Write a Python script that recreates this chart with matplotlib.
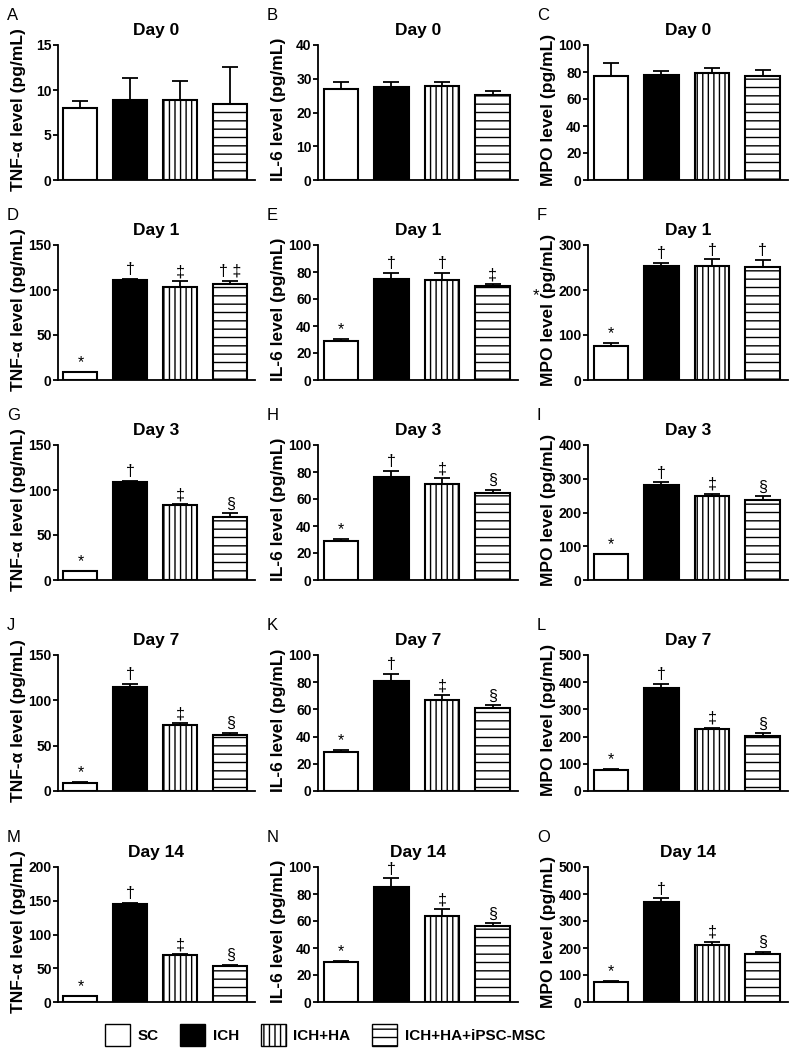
import matplotlib
matplotlib.use("Agg")
import matplotlib.pyplot as plt
from matplotlib.patches import Patch

plt.rcParams['font.family'] = ['Liberation Sans', 'DejaVu Sans']
plt.rcParams['hatch.linewidth'] = 1.0

groups = ['SC', 'ICH', 'ICH+HA', 'ICH+HA+iPSC-MSC']
days = ['Day 0', 'Day 1', 'Day 3', 'Day 7', 'Day 14']
letters = ['A', 'B', 'C', 'D', 'E', 'F', 'G', 'H', 'I', 'J', 'K', 'L', 'M', 'N', 'O']
ylabels = ['TNF-α level (pg/mL)', 'IL-6 level (pg/mL)', 'MPO level (pg/mL)']

# mean values, one list per panel (rows = days, columns = TNF-a, IL-6, MPO)
tnf_means = [[8.0, 8.9, 8.9, 8.4], [8.5, 111, 103.5, 106.5], [9.5, 109, 83, 70],
             [9, 115, 73, 62], [9, 145, 69, 54]]
tnf_errs = [[0.8, 2.4, 2.1, 4.2], [0.8, 1.5, 6, 4], [1, 1, 1.5, 4],
            [0.8, 3.5, 1.5, 2], [0.5, 1.5, 2, 1.5]]
il6_means = [[27, 27.5, 27.8, 25.3], [29, 74.5, 74, 69.5], [29, 76, 71, 64.5],
             [29, 81, 67, 61], [29.5, 85.5, 64, 56]]
il6_errs = [[2, 1.5, 1.2, 1.2], [1.2, 5, 5.5, 1.5], [1.5, 5, 4.5, 2.5],
            [1, 5, 3.5, 2], [1, 6, 5, 2.5]]
mpo_means = [[77, 77.5, 79, 77], [76, 253, 253, 251], [76, 281, 250, 238],
             [77, 380, 228, 203], [75, 372, 212, 176]]
mpo_errs = [[10, 3, 4, 4.5], [6, 7, 15, 16], [2, 9, 6, 10],
            [3, 14, 5, 10], [2, 12, 12, 10]]

tnf_marks = [['', '', '', ''], ['*', '†', '‡', '† ‡'], ['*', '†', '‡', '§'],
             ['*', '†', '‡', '§'], ['*', '†', '‡', '§']]
il6_marks = [['', '', '', ''], ['*', '†', '†', '‡'], ['*', '†', '‡', '§'],
             ['*', '†', '‡', '§'], ['*', '†', '‡', '§']]
mpo_marks = [['', '', '', ''], ['*', '†', '†', '†'], ['*', '†', '‡', '§'],
             ['*', '†', '‡', '§'], ['*', '†', '‡', '§']]

tnf_lim = [(15, 5), (150, 50), (150, 50), (150, 50), (200, 50)]
il6_lim = [(40, 10), (100, 20), (100, 20), (100, 20), (100, 20)]
mpo_lim = [(100, 20), (300, 100), (400, 100), (500, 100), (500, 100)]

colors = ['white', 'black', 'white', 'white']
hatches = [None, None, '|||', '--']

W, H = 799, 1062
fig = plt.figure(figsize=(W / 100, H / 100), dpi=100)

col_lr = [(58, 255), (318, 518), (588, 788)]
row_tb = [(45, 180), (245, 380), (445, 580), (655, 791), (867, 1002)]
letter_x = [7, 267, 537]

x = list(range(4))
for r in range(5):
    panel = [(tnf_means[r], tnf_errs[r], tnf_marks[r], tnf_lim[r]),
             (il6_means[r], il6_errs[r], il6_marks[r], il6_lim[r]),
             (mpo_means[r], mpo_errs[r], mpo_marks[r], mpo_lim[r])]
    for c in range(3):
        means, errs, marks, (ymax, step) = panel[c]
        l, rr = col_lr[c]
        t, b = row_tb[r]
        ax = fig.add_axes([l / W, 1 - b / H, (rr - l) / W, (b - t) / H])
        ax.bar(x, means, width=0.68, color=colors, edgecolor='black',
               linewidth=1.5, hatch=hatches, zorder=2)
        ax.errorbar(x, means, yerr=[[0] * 4, errs], fmt='none', ecolor='black',
                    elinewidth=1.3, capsize=6, capthick=1.3, zorder=1)
        for i in range(4):
            if marks[i]:
                ax.text(x[i], means[i] + errs[i] + ymax * 0.012, marks[i],
                        ha='center', va='bottom', fontsize=11.5)
        ax.set_xlim(-0.45, 3.5)
        ax.set_ylim(0, ymax)
        ax.set_yticks(range(0, ymax + 1, step))
        ax.set_xticks([])
        for s in ['top', 'right']:
            ax.spines[s].set_visible(False)
        for s in ['left', 'bottom']:
            ax.spines[s].set_linewidth(1.3)
        ax.tick_params(axis='y', width=1.3, length=3.5, labelsize=10, pad=1)
        for lab in ax.get_yticklabels():
            lab.set_fontweight('bold')
        ax.set_ylabel(ylabels[c], fontsize=12.5, fontweight='bold')
        ax.yaxis.set_label_coords(-32 / (rr - l), 0.52)
        ax.set_title(days[r], fontsize=12.5, fontweight='bold', pad=7)
        fig.text(letter_x[c] / W, 1 - (t - 30) / H, letters[r * 3 + c],
                 fontsize=12, ha='left', va='center')

# stray asterisk next to panel F label
fig.text(536 / W, 1 - 296 / H, '*', fontsize=12, ha='center', va='center')

handles = [Patch(facecolor=colors[i], edgecolor='black', hatch=hatches[i],
                 linewidth=1.0, label=groups[i]) for i in range(4)]
leg = fig.legend(handles=handles, loc='center', ncol=4,
                 bbox_to_anchor=(325 / W, 1 - 1035 / H), frameon=False,
                 handlelength=1.65, handleheight=1.75, handletextpad=0.5,
                 columnspacing=1.4, prop={'weight': 'bold', 'size': 11})

fig.savefig('out.png', dpi=100)
